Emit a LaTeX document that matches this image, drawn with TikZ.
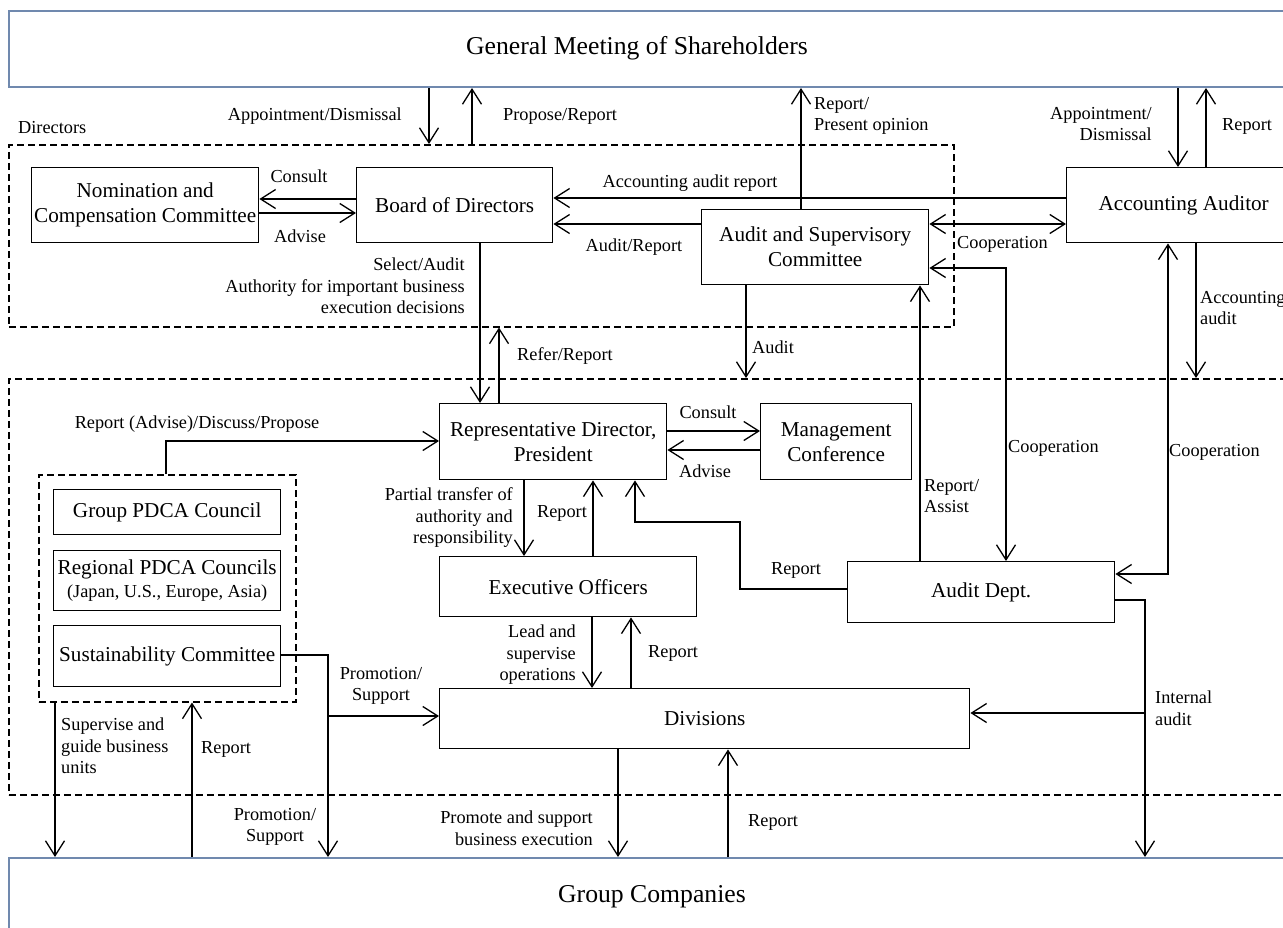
\documentclass[tikz,border=0pt]{standalone}
\usepackage{fontspec}
\setmainfont{Liberation Serif}
\usetikzlibrary{arrows.meta}
\newcommand\fmain{\fontsize{21.2}{25}\selectfont}
\newcommand\flab{\fontsize{18.3}{21.5}\selectfont}
\newcommand\ftitle{\fontsize{25.7}{30}\selectfont}
\definecolor{bluegray}{HTML}{7089AE}
\begin{document}
\begin{tikzpicture}[x=1pt,y=-1pt,
  box/.style={draw, line width=1.4pt, inner sep=0pt, align=center, font=\fmain, anchor=north west},
  bigbox/.style={draw=bluegray, line width=2pt, inner sep=0pt, anchor=north west},
  dbox/.style={draw, dash pattern=on 7pt off 4pt, line width=1.5pt, inner sep=0pt, anchor=north west},
  lab/.style={font=\flab, inner sep=0pt},
  arr/.style={line width=1.3pt, -{Straight Barb[length=15pt,width=19pt,line width=1.3pt]}},
  arrb/.style={line width=1.3pt, {Straight Barb[length=15pt,width=19pt,line width=1.3pt]}-{Straight Barb[length=15pt,width=19pt,line width=1.3pt]}},
  ln/.style={line width=1.3pt}]
\useasboundingbox (0,0) rectangle (1283,927);
\clip (0,0) rectangle (1283,927);
\fill[white] (0,0) rectangle (1283,927);

% big boxes
\node[bigbox, minimum width=1300, minimum height=76] (gm) at (8,10) {};
\node[font=\ftitle, inner sep=0pt] (gmtext) at (637,48) {General Meeting of Shareholders};
\node[bigbox, minimum width=1300, minimum height=90] (gc) at (8,857) {};
\node[font=\ftitle, inner sep=0pt] (gctext) at (652,897) {Group Companies};

% dashed groups
\node[dbox, minimum width=945, minimum height=182] (dir) at (8,144) {};
\node[dbox, minimum width=1300, minimum height=416] (low) at (8,378) {};
\node[dbox, minimum width=257, minimum height=227] (pdca) at (38,474) {};
\node[lab, anchor=west] (dirlab) at (18,128) {Directors};

% boxes
\node[box, minimum width=227, minimum height=75] (nom) at (31,167) {Nomination and\\Compensation Committee};
\node[box, minimum width=196, minimum height=75] (bod) at (356,167) {Board of Directors};
\node[box, minimum width=227, minimum height=75] (asc) at (701,209) {Audit and Supervisory\\Committee};
\node[box, minimum width=234, minimum height=75] (acc) at (1066,167) {Accounting Auditor};
\node[box, minimum width=227, minimum height=76] (rep) at (439,403) {Representative Director,\\President};
\node[box, minimum width=151, minimum height=76] (mgmt) at (760,403) {Management\\Conference};
\node[box, minimum width=257, minimum height=60] (exec) at (439,556) {Executive Officers};
\node[box, minimum width=267, minimum height=61] (audit) at (847,561) {Audit Dept.};
\node[box, minimum width=530, minimum height=60] (div) at (439,688) {Divisions};
\node[box, minimum width=227, minimum height=45] (gpdca) at (53,489) {Group PDCA Council};
\node[box, minimum width=227, minimum height=60] (rpdca) at (53,550) {Regional PDCA Councils\\[-2pt]{\flab (Japan, U.S., Europe, Asia)}};
\node[box, minimum width=227, minimum height=61] (sus) at (53,625) {Sustainability Committee};

% GM <-> Directors
\draw[arr] (429,0 |- gm.south) -- (429,0 |- dir.north);
\draw[arr] (472,0 |- dir.north) -- (472,0 |- gm.south);
\node[lab, anchor=east] (l1) at (402,116) {Appointment/Dismissal};
\node[lab, anchor=west] (l2) at (503,116) {Propose/Report};

% Nomination <-> Board
\draw[arr] (bod.west |- 0,199) -- (nom.east |- 0,199);
\draw[arr] (nom.east |- 0,213) -- (bod.west |- 0,213);
\node[lab] (l3) at (299,176) {Consult};
\node[lab] (l4) at (300,236) {Advise};

% Board <- accounting / audit committee
\draw[arr] (acc.west |- 0,198) -- (bod.east |- 0,198);
\node[lab] (l5) at (690,183) {Accounting audit report};
\draw[arr] (asc.west |- 0,224) -- (bod.east |- 0,224);
\node[lab] (l6) at (634,247) {Audit/Report};
\draw[arr] (801,0 |- asc.north) -- (801,0 |- gm.south);
\node[lab, anchor=west, align=left] (l7) at (814,116) {Report/\\Present opinion};
\draw[arrb] (asc.east |- 0,224) -- (acc.west |- 0,224);
\node[lab, anchor=west] (l8) at (957,244) {Cooperation};

% GM <-> Accounting Auditor
\draw[arr] (1178,0 |- gm.south) -- (1178,0 |- acc.north);
\draw[arr] (1206,0 |- acc.north) -- (1206,0 |- gm.south);
\node[lab, anchor=east, align=right] (l9) at (1152,124) {Appointment/\\Dismissal};
\node[lab, anchor=west] (l10) at (1222,126) {Report};

% Audit
\draw[arr] (746,0 |- asc.south) -- (746,0 |- low.north);
\node[lab, anchor=west] (l11) at (752,347) {Audit};
\draw[arr] (1196,0 |- acc.south) -- (1196,0 |- low.north);
\node[lab, anchor=west, align=left] (l12) at (1200,308) {Accounting\\audit};

% Board <-> Rep
\draw[arr] (480,0 |- bod.south) -- (480,0 |- rep.north);
\node[lab, anchor=east, align=right] (l13) at (465,286) {Select/Audit\\Authority for important business\\execution decisions};
\draw[arr] (499,0 |- rep.north) -- (499,0 |- dir.south);
\node[lab, anchor=west] (l14) at (517,356) {Refer/Report};

% Audit committee <-> Audit Dept
\draw[arrb] (asc.east |- 0,268) -| (1006,0 |- audit.north);
\node[lab, anchor=west] (l15) at (1008,448) {Cooperation};
\draw[arr] (920,0 |- audit.north) -- (920,0 |- asc.south);
\node[lab, anchor=west, align=left] (l16) at (924,496) {Report/\\Assist};
\draw[arrb] (1168,0 |- acc.south) |- (audit.east |- 0,574);
\node[lab, anchor=west] (l17) at (1169,452) {Cooperation};

% Rep <-> Mgmt
\draw[arr] (rep.east |- 0,431) -- (mgmt.west |- 0,431);
\draw[arr] (mgmt.west |- 0,450) -- (rep.east |- 0,450);
\node[lab] (l18) at (708,412) {Consult};
\node[lab] (l19) at (705,471) {Advise};

% PDCA -> Rep
\draw[arr] (166,0 |- pdca.north) |- (rep.west |- 0,441);
\node[lab] (l20) at (197,424) {Report (Advise)/Discuss/Propose};

% Rep <-> Exec
\draw[arr] (524,0 |- rep.south) -- (524,0 |- exec.north);
\node[lab, anchor=east, align=right] (l21) at (513,518) {Partial transfer of\\authority and\\responsibility};
\draw[arr] (593,0 |- exec.north) -- (593,0 |- rep.south);
\node[lab] (l22) at (562,513) {Report};

% Audit Dept -> Rep
\coordinate (ad1) at (740,589);
\coordinate (ad2) at (740,522);
\coordinate (ad3) at (635,522);
\draw[arr] (audit.west |- ad1) -- (ad1) -- (ad2) -- (ad3) -- (ad3 |- rep.south);
\node[lab] (l23) at (796,570) {Report};

% Exec <-> Divisions
\draw[arr] (592,0 |- exec.south) -- (592,0 |- div.north);
\node[lab, anchor=east, align=right] (l24) at (576,655) {Lead and\\supervise\\operations};
\draw[arr] (631,0 |- div.north) -- (631,0 |- exec.south);
\node[lab, anchor=west] (l25) at (648,653) {Report};

% Sustainability -> Divisions / Group companies
\coordinate (sb) at (328,716);
\draw[arr] (sus.east |- 0,655) -| (328,0 |- gc.north);
\draw[arr] (sb) -- (div.west |- sb);
\node[lab, align=center] (l26) at (381,686) {Promotion/\\Support};
\node[lab, align=center] (l27) at (275,827) {Promotion/\\Support};

% Audit Dept -> Divisions / Group companies
\coordinate (ib) at (1145,713);
\draw[arr] (audit.east |- 0,600) -| (1145,0 |- gc.north);
\draw[arr] (ib) -- (div.east |- ib);
\node[lab, anchor=west, align=left] (l28) at (1155,708) {Internal\\audit};

% PDCA <-> Group companies
\draw[arr] (55,0 |- pdca.south) -- (55,0 |- gc.north);
\node[lab, anchor=west, align=left] (l29) at (61,746) {Supervise and\\guide business\\units};
\draw[arr] (192,0 |- gc.north) -- (192,0 |- pdca.south);
\node[lab, anchor=west] (l30) at (201,749) {Report};

% Divisions <-> Group companies
\draw[arr] (618,0 |- div.south) -- (618,0 |- gc.north);
\node[lab, anchor=east, align=right] (l31) at (593,828) {Promote and support\\business execution};
\draw[arr] (728,0 |- gc.north) -- (728,0 |- div.south);
\node[lab, anchor=west] (l32) at (748,822) {Report};
\end{tikzpicture}
\end{document}
